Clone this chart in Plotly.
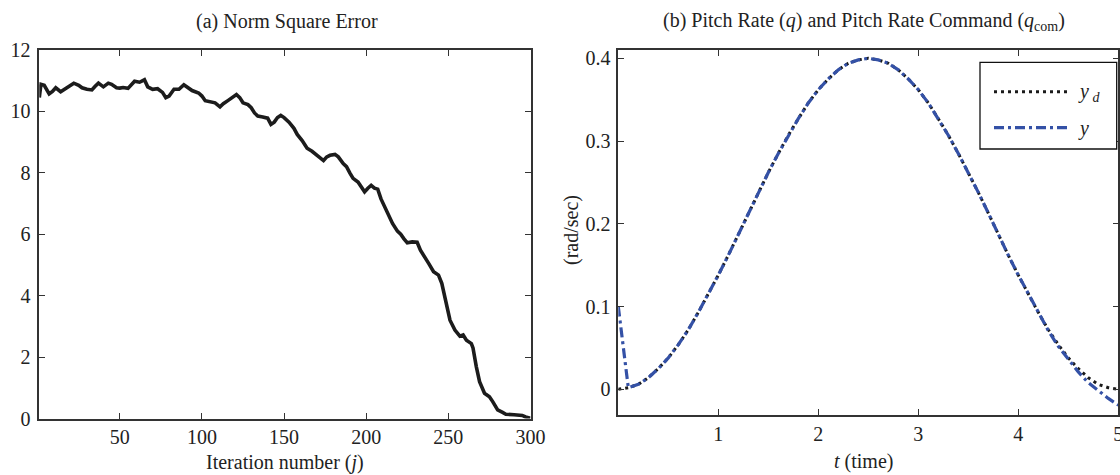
import plotly.graph_objects as go

# ---------------- data ----------------
# (a) Norm square error vs iteration number
iter_j = [1, 2, 4, 7, 9, 11, 14, 17, 20, 22, 25, 27, 30, 33, 35, 37, 40, 43, 45, 48,
          50, 52, 55, 57, 59, 62, 65, 67, 70, 73, 76, 78, 80, 83, 86, 89, 91, 94, 98, 100,
          102, 105, 108, 111, 113, 116, 119, 121, 123, 125, 128, 130, 132, 134, 137, 140,
          142, 144, 146, 148, 150, 153, 156, 158, 161, 164, 167, 170, 172, 174, 176, 178,
          181, 183, 186, 188, 190, 192, 195, 197, 199, 201, 203, 205, 207, 209, 211, 213,
          216, 219, 221, 223, 225, 228, 231, 233, 236, 238, 241, 244, 246, 248, 251, 254,
          257, 259, 261, 264, 265, 267, 269, 272, 275, 277, 280, 283, 285, 290, 293, 295,
          297, 299, 300]
norm_err = [10.45, 10.88, 10.85, 10.57, 10.65, 10.77, 10.64, 10.75, 10.85, 10.92, 10.85,
            10.77, 10.72, 10.70, 10.82, 10.92, 10.80, 10.92, 10.88, 10.77, 10.76, 10.78,
            10.75, 10.85, 10.98, 10.95, 11.03, 10.80, 10.72, 10.74, 10.62, 10.45, 10.50,
            10.72, 10.72, 10.87, 10.80, 10.68, 10.60, 10.50, 10.35, 10.32, 10.28, 10.15,
            10.25, 10.36, 10.48, 10.55, 10.45, 10.28, 10.22, 10.12, 9.95, 9.85, 9.82, 9.78,
            9.58, 9.65, 9.80, 9.87, 9.80, 9.65, 9.45, 9.25, 9.05, 8.80, 8.70, 8.58, 8.50,
            8.40, 8.52, 8.57, 8.60, 8.52, 8.30, 8.20, 8.00, 7.82, 7.70, 7.55, 7.38, 7.50,
            7.59, 7.50, 7.47, 7.15, 6.90, 6.65, 6.35, 6.10, 6.00, 5.85, 5.72, 5.75, 5.74,
            5.48, 5.25, 5.05, 4.78, 4.67, 4.40, 3.96, 3.20, 2.88, 2.68, 2.72, 2.55, 2.44,
            2.30, 1.69, 1.20, 0.82, 0.71, 0.55, 0.28, 0.20, 0.14, 0.12, 0.12, 0.10, 0.05,
            0.02, 0.01]

# (b) pitch rate command y_d and pitch rate y vs time
time_t = [0.0, 0.1, 0.2, 0.3, 0.4, 0.5, 0.6, 0.7, 0.8, 0.9, 1.0, 1.1, 1.2, 1.3, 1.4, 1.5,
          1.6, 1.7, 1.8, 1.9, 2.0, 2.1, 2.2, 2.3, 2.4, 2.5, 2.6, 2.7, 2.8, 2.9, 3.0, 3.1,
          3.2, 3.3, 3.4, 3.5, 3.6, 3.7, 3.8, 3.9, 4.0, 4.1, 4.2, 4.3, 4.4, 4.5, 4.6, 4.7,
          4.8, 4.9, 5.0]
y_d = [0.000, 0.002, 0.006, 0.014, 0.025, 0.038, 0.054, 0.072, 0.093, 0.115, 0.138,
       0.162, 0.187, 0.213, 0.238, 0.262, 0.285, 0.307, 0.327, 0.346, 0.362, 0.375,
       0.386, 0.394, 0.398, 0.400, 0.398, 0.394, 0.386, 0.375, 0.362, 0.346, 0.327,
       0.307, 0.285, 0.262, 0.238, 0.213, 0.187, 0.162, 0.138, 0.115, 0.093, 0.072,
       0.054, 0.038, 0.025, 0.014, 0.006, 0.002, 0.000]
y_out = [0.100, 0.002, 0.006, 0.014, 0.025, 0.038, 0.054, 0.072, 0.093, 0.115, 0.138,
         0.162, 0.187, 0.213, 0.238, 0.262, 0.285, 0.307, 0.327, 0.346, 0.362, 0.375,
         0.386, 0.394, 0.398, 0.400, 0.398, 0.394, 0.386, 0.375, 0.362, 0.346, 0.327,
         0.307, 0.285, 0.262, 0.238, 0.213, 0.187, 0.162, 0.138, 0.115, 0.092, 0.071,
         0.052, 0.036, 0.021, 0.008, -0.002, -0.011, -0.019]

x1_ticks = [50, 100, 150, 200, 250, 300]
y1_ticks = [0, 2, 4, 6, 8, 10, 12]
x2_ticks = [1, 2, 3, 4, 5]
y2_ticks = [0, 0.1, 0.2, 0.3, 0.4]
y2_ticktext = ["0", "0.1", "0.2", "0.3", "0.4"]

# ---------------- style ----------------
FONT = "Liberation Serif, Times New Roman, serif"
TXT = "#222222"
FRAME = "#333333"
BLUE = "#3451a6"
W, H = 1120, 475

fig = go.Figure()
fig.add_trace(go.Scatter(x=iter_j, y=norm_err, mode="lines", xaxis="x", yaxis="y",
                         line=dict(color="#1c1c1c", width=3.6), showlegend=False))
fig.add_trace(go.Scatter(x=time_t, y=y_d, mode="lines", xaxis="x2", yaxis="y2",
                         line=dict(color="#1a1a1a", width=3, dash="3px,4px"),
                         showlegend=False))
fig.add_trace(go.Scatter(x=time_t, y=y_out, mode="lines", xaxis="x2", yaxis="y2",
                         line=dict(color=BLUE, width=3.2, dash="10px,4px,3px,4px"),
                         showlegend=False))

axis_common = dict(showline=True, linecolor=FRAME, linewidth=1.5, mirror="ticks",
                   ticks="inside", ticklen=6, tickwidth=1, tickcolor=FRAME,
                   showgrid=False, zeroline=False, automargin=False,
                   tickfont=dict(family=FONT, size=20, color=TXT))

fig.update_layout(
    width=W, height=H,
    margin=dict(l=0, r=0, t=0, b=0),
    paper_bgcolor="white", plot_bgcolor="white",
    xaxis=dict(domain=[39.3 / W, 530.5 / W], range=[1, 300], anchor="y",
               tickvals=x1_ticks, ticklabeloverflow="allow", **axis_common),
    yaxis=dict(domain=[(H - 418.5) / H, (H - 50) / H], range=[0, 12], anchor="x",
               tickvals=y1_ticks, ticklabelstandoff=3, **axis_common),
    xaxis2=dict(domain=[618.3 / W, 1118.3 / W], range=[0, 5], anchor="y2",
                tickvals=x2_ticks, ticklabeloverflow="allow", **axis_common),
    yaxis2=dict(domain=[(H - 415) / H, (H - 50) / H], range=[-0.031, 0.41], anchor="x2",
                tickvals=y2_ticks, ticktext=y2_ticktext, ticklabelstandoff=2,
                **axis_common),
)

ann_font = dict(family=FONT, size=20, color=TXT)
annotations = [
    dict(text="(a) Norm Square Error", x=287 / W, y=(H - 22) / H),
    dict(text="(b) Pitch Rate (<i>q</i>) and Pitch Rate Command (<i>q</i><sub>com</sub>)",
         x=864 / W, y=(H - 22) / H),
    dict(text="Iteration number (<i>j</i>)", x=285 / W, y=(H - 462) / H),
    dict(text="<i>t</i> (time)", x=863 / W, y=(H - 461) / H),
    dict(text="(rad/sec)", x=572 / W, y=(H - 230) / H, textangle=-90),
    dict(text="<i>y</i><sub> <i>d</i></sub>", x=1076 / W, y=(H - 92) / H, xanchor="left"),
    dict(text="<i>y</i>", x=1076 / W, y=(H - 128) / H, xanchor="left"),
]
for a in annotations:
    a.setdefault("xanchor", "center")
    fig.add_annotation(xref="paper", yref="paper", showarrow=False, yanchor="middle",
                       font=ann_font, **a)

# legend box and samples
fig.add_shape(type="rect", xref="paper", yref="paper",
              x0=980 / W, x1=1116.7 / W, y0=(H - 149) / H, y1=(H - 62.3) / H,
              line=dict(color="#111111", width=1.3), fillcolor="white", layer="above")
fig.add_shape(type="line", xref="paper", yref="paper",
              x0=994 / W, x1=1070 / W, y0=(H - 91.7) / H, y1=(H - 91.7) / H,
              line=dict(color="#1a1a1a", width=3, dash="3px,4px"), layer="above")
fig.add_shape(type="line", xref="paper", yref="paper",
              x0=994 / W, x1=1070 / W, y0=(H - 127.7) / H, y1=(H - 127.7) / H,
              line=dict(color=BLUE, width=3.2, dash="10px,4px,3px,4px"), layer="above")

fig.write_html("out.html")
